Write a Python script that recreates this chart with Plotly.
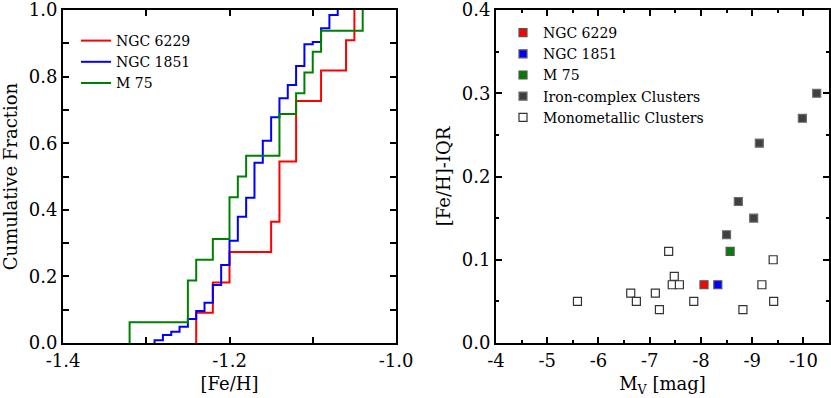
import plotly.graph_objects as go

# ---- left panel: cumulative [Fe/H] distributions (step positions, cumulative fraction)
feh_6229 = [-1.24, -1.22, -1.20, -1.15, -1.14, -1.12, -1.09, -1.06, -1.05]
cum_6229 = [0.091, 0.182, 0.273, 0.364, 0.545, 0.727, 0.818, 0.909, 1.0]

feh_1851 = [-1.29, -1.28, -1.27, -1.26, -1.25, -1.24, -1.23, -1.22, -1.21, -1.20, -1.19, -1.18,
            -1.17, -1.16, -1.15, -1.14, -1.13, -1.12, -1.11, -1.10, -1.09, -1.08, -1.07]
cum_1851 = [0.008, 0.024, 0.034, 0.049, 0.072, 0.096, 0.121, 0.174, 0.234, 0.307, 0.379, 0.436,
            0.541, 0.607, 0.678, 0.735, 0.775, 0.832, 0.897, 0.904, 0.945, 0.985, 1.0]

feh_m75 = [-1.32, -1.25, -1.24, -1.22, -1.20, -1.19, -1.18, -1.14, -1.12, -1.11, -1.10, -1.09, -1.04]
cum_m75 = [0.0625, 0.1875, 0.25, 0.3125, 0.4375, 0.5, 0.5625, 0.6875, 0.75, 0.8125, 0.875, 0.9375, 1.0]

feh_ticks = [-1.4, -1.2, -1.0]
cum_ticks = [0.0, 0.2, 0.4, 0.6, 0.8, 1.0]

# ---- right panel: IQR of [Fe/H] vs absolute magnitude
mv_6229, iqr_6229 = [-8.06], [0.07]
mv_1851, iqr_1851 = [-8.33], [0.07]
mv_m75, iqr_m75 = [-8.57], [0.11]

mv_iron = [-10.26, -9.98, -9.14, -8.73, -9.03, -8.50]
iqr_iron = [0.30, 0.27, 0.24, 0.17, 0.15, 0.13]

mv_mono = [-5.59, -6.63, -6.74, -7.11, -7.19, -7.37, -7.48, -7.44, -7.58, -7.86, -8.82, -9.19, -9.41, -9.42]
iqr_mono = [0.05, 0.06, 0.05, 0.06, 0.04, 0.11, 0.08, 0.07, 0.07, 0.05, 0.04, 0.07, 0.10, 0.05]

mv_ticks = [-4, -5, -6, -7, -8, -9, -10]
iqr_ticks = [0.0, 0.1, 0.2, 0.3, 0.4]

FONT = 'DejaVu Serif'

fig = go.Figure()

# step curves, starting from zero at the first value
for feh, cum, name, color in [
    (feh_6229, cum_6229, 'NGC 6229', '#ff0000'),
    (feh_1851, cum_1851, 'NGC 1851', '#0000ff'),
    (feh_m75, cum_m75, 'M 75', '#008000'),
]:
    fig.add_trace(go.Scatter(
        x=[feh[0]] + feh, y=[0] + cum,
        mode='lines', line=dict(color=color, width=2, shape='hv'),
        name=name, xaxis='x', yaxis='y', legend='legend'
    ))

# scatter points
for mv, iqr, name, fill, edge in [
    (mv_6229, iqr_6229, 'NGC 6229', '#ff0000', '#555555'),
    (mv_1851, iqr_1851, 'NGC 1851', '#0000ff', '#555555'),
    (mv_m75, iqr_m75, 'M 75', '#008000', '#555555'),
    (mv_iron, iqr_iron, 'Iron-complex Clusters', '#404040', '#6a6a6a'),
    (mv_mono, iqr_mono, 'Monometallic Clusters', '#ffffff', '#333333'),
]:
    fig.add_trace(go.Scatter(
        x=mv, y=iqr, mode='markers',
        marker=dict(symbol='square', size=8, color=fill, line=dict(color=edge, width=1.2)),
        name=name, xaxis='x2', yaxis='y2', legend='legend2'
    ))


def fmt(v, nd):
    # matplotlib-style labels with a plain hyphen
    return f'{v:.{nd}f}'


axis_common = dict(
    showline=True, linecolor='black', linewidth=2, mirror='ticks',
    ticks='inside', ticklen=6, tickwidth=1.5, tickcolor='black',
    showgrid=False, zeroline=False, automargin=False, ticklabeloverflow='allow',
    tickfont=dict(family=FONT, size=18, color='black'),
    title_font=dict(family=FONT, size=18, color='black'),
)

W, H = 831, 398
ML, MR, MT, MB = 63, 2, 10, 55
PW, PH = W - ML - MR, H - MT - MB

fig.update_layout(
    width=W, height=H,
    margin=dict(l=ML, r=MR, t=MT, b=MB),
    paper_bgcolor='white', plot_bgcolor='white',
    font=dict(family=FONT, color='black'),
    xaxis=dict(
        domain=[0, 333 / PW], range=[-1.4, -1.0],
        tickvals=feh_ticks, ticktext=[fmt(v, 1) for v in feh_ticks],
        minor=dict(dtick=0.1, ticks='inside', ticklen=6, tickcolor='black', tickwidth=1.5),
        title=dict(text='[Fe/H]', standoff=8), **axis_common
    ),
    yaxis=dict(
        domain=[0, 1], range=[0, 1],
        tickvals=cum_ticks, ticktext=[fmt(v, 1) for v in cum_ticks],
        minor=dict(dtick=0.1, ticks='inside', ticklen=6, tickcolor='black', tickwidth=1.5),
        title=dict(text='Cumulative Fraction', standoff=6), anchor='x', **axis_common
    ),
    xaxis2=dict(
        domain=[(496 - ML) / PW, 1], range=[-4, -10.5],
        tickvals=mv_ticks, ticktext=[fmt(v, 0) for v in mv_ticks],
        minor=dict(dtick=0.5, ticks='inside', ticklen=3, tickcolor='black', tickwidth=1.5),
        title=dict(text='M<sub>V</sub> [mag]', standoff=8), anchor='y2', **axis_common
    ),
    yaxis2=dict(
        domain=[0, 1], range=[0, 0.4],
        tickvals=iqr_ticks, ticktext=[fmt(v, 1) for v in iqr_ticks],
        minor=dict(dtick=0.05, ticks='inside', ticklen=3, tickcolor='black', tickwidth=1.5),
        title=dict(text='[Fe/H]-IQR', standoff=6), anchor='x2', **axis_common
    ),
    legend=dict(
        x=13 / PW, y=1 - 15 / PH, xanchor='left', yanchor='top',
        bgcolor='rgba(0,0,0,0)', font=dict(family=FONT, size=14, color='black'),
        tracegroupgap=0
    ),
    legend2=dict(
        x=(503 - ML) / PW, y=1 - 7 / PH, xanchor='left', yanchor='top',
        bgcolor='rgba(0,0,0,0)', font=dict(family=FONT, size=14, color='black'),
        tracegroupgap=0
    ),
)

# drop the default page margin so the figure sits at the window's corner
fig.write_html(
    "out.html",
    config={'displayModeBar': False},
    post_script="document.body.style.margin='0';document.body.style.overflow='hidden';",
)
